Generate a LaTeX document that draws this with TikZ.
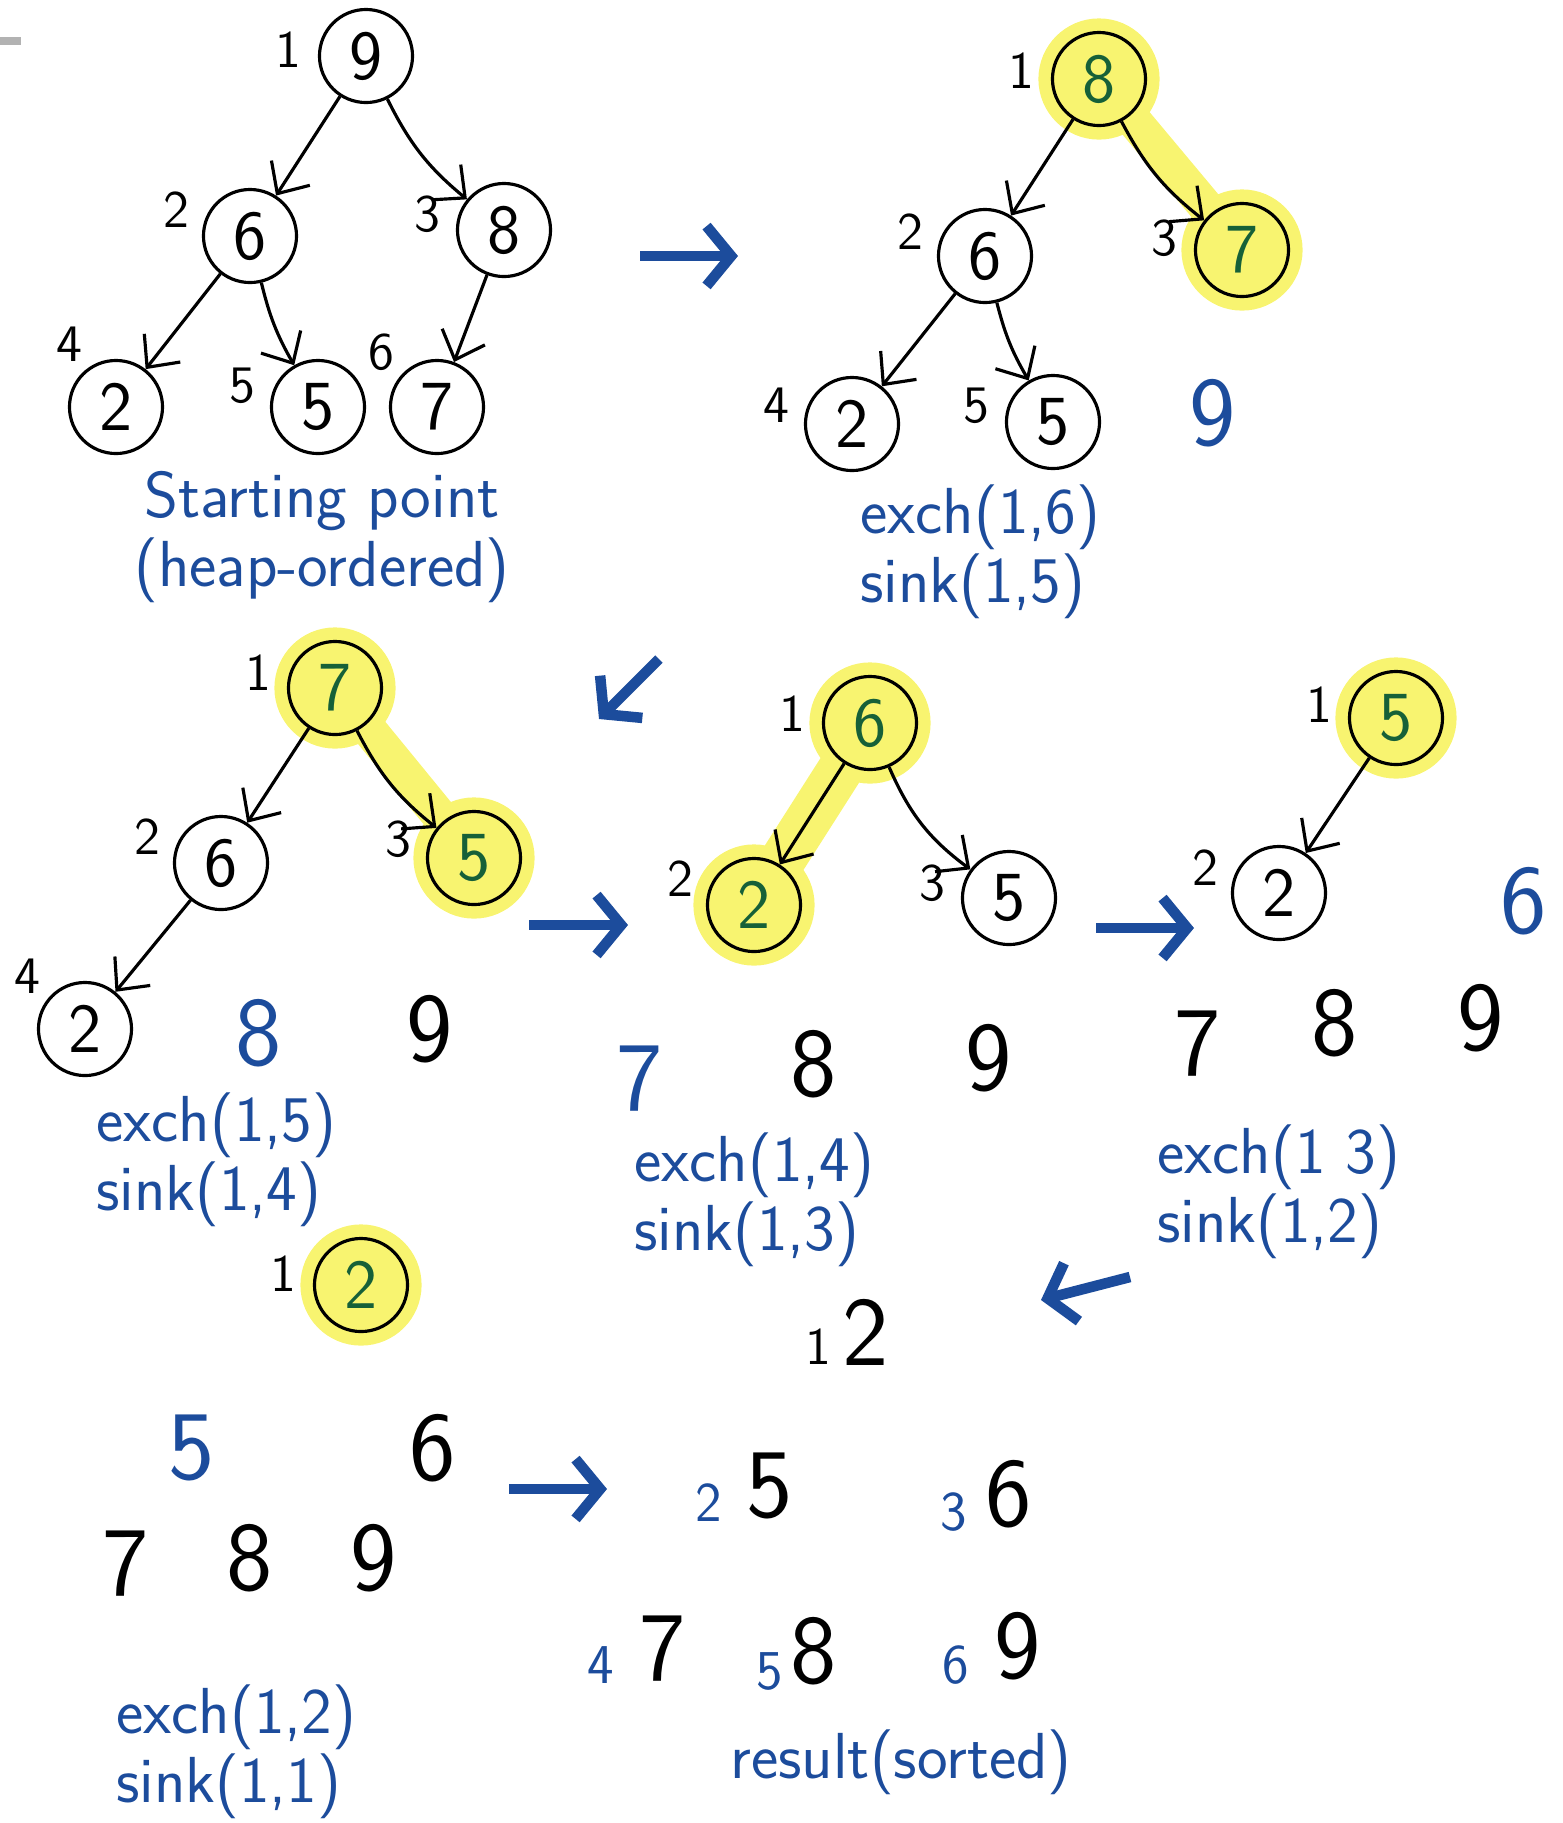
\documentclass[tikz,border=0pt]{standalone}
\usepackage{tikz}
\usetikzlibrary{arrows.meta,positioning,backgrounds}
\renewcommand{\familydefault}{\sfdefault}
\definecolor{inkblue}{RGB}{28,76,156}
\definecolor{inkgreen}{RGB}{22,96,56}
\definecolor{hlyellow}{RGB}{248,244,112}

\begin{document}
\begin{tikzpicture}[
  x=0.01cm, y=-0.01cm,
  label distance=0.3cm,
  key/.style={draw, circle, minimum size=0.93cm, inner sep=0pt,
              font=\fontsize{20}{24}\selectfont, line width=0.9pt},
  hkey/.style={key, fill=hlyellow, text=inkgreen,
               preaction={draw=hlyellow, line width=8pt}},
  idx/.style={font=\fontsize{15}{18}\selectfont, anchor=center, inner sep=0pt},
  val/.style={font=\fontsize{28}{32}\selectfont},
  bval/.style={val, text=inkblue},
  sub/.style={font=\fontsize{16}{18}\selectfont, text=inkblue},
  note/.style={text=inkblue, align=left, inner sep=1pt,
               font=\fontsize{18.5}{19.5}\selectfont},
  link/.style={-{Straight Barb[length=7pt,width=13pt]}, line width=0.9pt},
  hlink/.style={draw=hlyellow, line width=10pt, line cap=round},
  flowarr/.style={draw=inkblue, line width=3pt,
                  -{Straight Barb[length=7pt,width=17pt]}}
]
\useasboundingbox (0,0) rectangle (1563,1823);
\draw[gray!60, line width=2pt] (0,41) -- (21,41);

% starting heap
\node[key, label={[idx]175:1}] (a9) at (366,56) {9};
\node[key, label={[idx]160:2}] (a6) at (250,236) {6};
\node[key, label={[idx]168:3}] (a8) at (504,230) {8};
\node[key, label={[idx]127:4}] (a2) at (116,407) {2};
\node[key, label={[idx]164:5}] (a5) at (318,407) {5};
\node[key, label={[idx]135:6}] (a7) at (437,407) {7};
\node[note, align=center] (anote) at (322,537) {Starting point\\(heap-ordered)};

\draw[link] (a9) -- (a6);
\draw[link] (a9) to[bend right=12] (a8);
\draw[link] (a6) -- (a2);
\draw[link] (a6) to[bend right=8] (a5);
\draw[link] (a8) -- (a7);

% after exch(1,6)
\node[hkey, label={[idx]174:1}] (b8) at (1099,79) {8};
\node[key, label={[idx]162:2}] (b6) at (985,256) {6};
\node[hkey, label={[idx]171:3}] (b7) at (1242,250) {7};
\node[key, label={[idx]166:4}] (b2) at (852,424) {2};
\node[key, label={[idx]168:5}] (b5) at (1053,422) {5};
\node[bval] (b9) at (1213,413) {9};
\node[note, anchor=west] (bnote) at (856,552) {exch(1,6)\\sink(1,5)};

\begin{scope}[on background layer]
  \draw[hlink] (b8) -- (b7);
\end{scope}
\draw[link] (b8) -- (b6);
\draw[link] (b8) to[bend right=12] (b7);
\draw[link] (b6) -- (b2);
\draw[link] (b6) to[bend right=8] (b5);

% after exch(1,5)
\node[hkey, label={[idx]169:1}] (c7) at (335,688) {7};
\node[key, label={[idx]160:2}] (c6) at (221,863) {6};
\node[hkey, label={[idx]166:3}] (c5) at (474,858) {5};
\node[key, label={[idx]137:4}] (c2) at (85,1029) {2};
\node[bval] (c8) at (259,1033) {8};
\node[val] (c9) at (430,1029) {9};
\node[note, anchor=west] (cnote) at (92,1160) {exch(1,5)\\sink(1,4)};
\node[hkey, label={[idx]172:1}] (c1) at (361,1285) {2};

\begin{scope}[on background layer]
  \draw[hlink] (c7) -- (c5);
\end{scope}
\draw[link] (c7) -- (c6);
\draw[link] (c7) to[bend right=12] (c5);
\draw[link] (c6) -- (c2);

% after exch(1,4)
\node[hkey, label={[idx]173:1}] (d6) at (870,723) {6};
\node[hkey, label={[idx]160:2}] (d2) at (754,905) {2};
\node[key, label={[idx]169:3}] (d5) at (1009,898) {5};
\node[bval] (d7) at (640,1079) {7};
\node[val] (d8) at (814,1064) {8};
\node[val] (d9) at (989,1058) {9};
\node[note, anchor=west] (dnote) at (630,1200) {exch(1,4)\\sink(1,3)};

\begin{scope}[on background layer]
  \draw[hlink, line width=13pt] (d6) -- (d2);
\end{scope}
\draw[link] (d6) -- (d2);
\draw[link] (d6) to[bend right=15] (d5);

% after exch(1,3)
\node[hkey, label={[idx]170:1}] (e5) at (1396,718) {5};
\node[key, label={[idx]161:2}] (e2) at (1279,893) {2};
\node[bval] (e6) at (1524,901) {6};
\node[val] (e7) at (1198,1044) {7};
\node[val] (e8) at (1335,1023) {8};
\node[val] (e9) at (1481,1018) {9};
\node[note, anchor=west] (enote) at (1153,1192) {exch(1 3)\\sink(1,2)};

\draw[link] (e5) -- (e2);

% after exch(1,2)
\node[idx] (f1) at (818,1347) {1};
\node[val] (f2) at (866,1332) {2};
\node[bval] (f5) at (192,1448) {5};
\node[val] (f6) at (433,1448) {6};
\node[val] (f7) at (126,1564) {7};
\node[val] (f8) at (250,1558) {8};
\node[val] (f9) at (374,1558) {9};
\node[note, anchor=west] (fnote) at (112,1752) {exch(1,2)\\sink(1,1)};

% sorted result
\node[sub] (g2) at (709,1503) {2};
\node[val] (g5) at (770,1486) {5};
\node[sub] (g3) at (954,1512) {3};
\node[val] (g6) at (1009,1494) {6};
\node[sub] (g4) at (601,1665) {4};
\node[val] (g7) at (663,1649) {7};
\node[sub] (g5i) at (770,1671) {5};
\node[val] (g8) at (814,1651) {8};
\node[sub] (g6i) at (956,1665) {6};
\node[val] (g9) at (1018,1646) {9};
\node[note] (gnote) at (901,1762) {result(sorted)};

% steps
\coordinate (s1a) at (640,256);   \coordinate (s1b) at (738,256);
\coordinate (s2a) at (659,659);   \coordinate (s2b) at (599,719);
\coordinate (s3a) at (529,925);   \coordinate (s3b) at (628,925);
\coordinate (s4a) at (1096,928);  \coordinate (s4b) at (1194,928);
\coordinate (s5a) at (1130,1277); \coordinate (s5b) at (1041,1300);
\coordinate (s6a) at (509,1489);  \coordinate (s6b) at (607,1489);
\draw[flowarr] (s1a) -- (s1b);
\draw[flowarr] (s2a) -- (s2b);
\draw[flowarr] (s3a) -- (s3b);
\draw[flowarr] (s4a) -- (s4b);
\draw[flowarr] (s5a) -- (s5b);
\draw[flowarr] (s6a) -- (s6b);
\end{tikzpicture}
\end{document}
